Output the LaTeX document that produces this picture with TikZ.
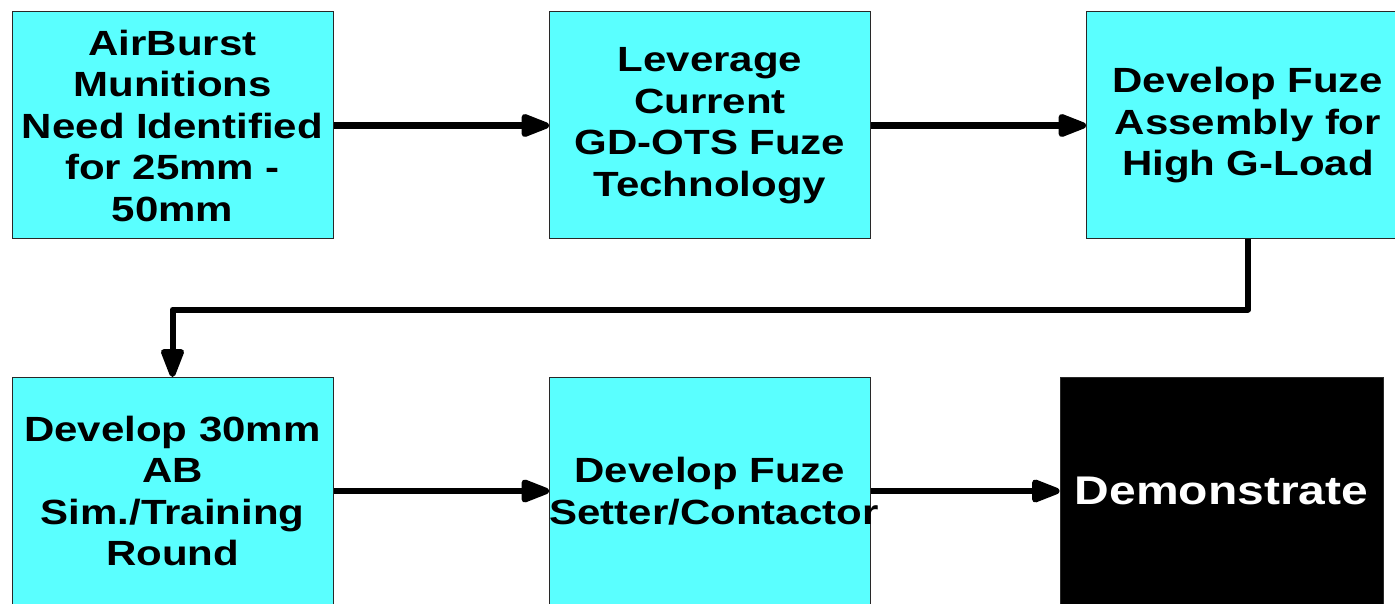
\documentclass[tikz,border=0pt]{standalone}
\usepackage{fontspec}
\setmainfont{Liberation Sans}[FakeStretch=1.2]
\usetikzlibrary{arrows.meta}
\definecolor{boxcyan}{RGB}{90,255,255}
\definecolor{edgegray}{RGB}{40,40,40}
\begin{document}
\begin{tikzpicture}[x=1pt,y=-1pt,
  stepbox/.style={draw=edgegray,line width=1pt,fill=boxcyan,text width=321pt,minimum height=227pt,
    inner sep=0pt,align=center,font=\bfseries\fontsize{35}{41.5}\selectfont},
  darkbox/.style={draw=edgegray,line width=1pt,fill=black,text=white,minimum width=323pt,minimum height=227pt,
    inner sep=0pt,align=center,font=\bfseries\fontsize{40}{48}\selectfont},
  flow/.style={line width=6.5pt,-{Triangle[length=34pt,width=24pt,round]}}]
\useasboundingbox (0,0) rectangle (1395,604);
\fill[white] (0,0) rectangle (1395,604);
\node[stepbox] (a) at (172.5,125.5) {AirBurst\\Munitions\\Need Identified\\for 25mm -\\50mm};
\node[stepbox] (b) at (710,125.5) {Leverage\\Current\\GD-OTS Fuze\\Technology};
\node[stepbox,text width=323pt] (c) at (1248,125.5) {Develop Fuze\\Assembly for\\High G-Load};
\node[stepbox] (d) at (172.5,491) {Develop 30mm\\AB\\Sim./Training\\Round};
\node[stepbox] (e) at (710,491) {Develop Fuze\\Setter/Contactor};
\node[darkbox] (f) at (1221.5,491) {Demonstrate};
\draw[flow] (a.east) -- (b.west);
\draw[flow] (b.east) -- (c.west);
\draw[flow] (d.east) -- (e.west);
\draw[flow] (e.east) -- (f.west);
\draw[flow,line width=6pt,line join=round] (c.south) -- ++(0,70) -| (d.north);
\end{tikzpicture}
\end{document}
